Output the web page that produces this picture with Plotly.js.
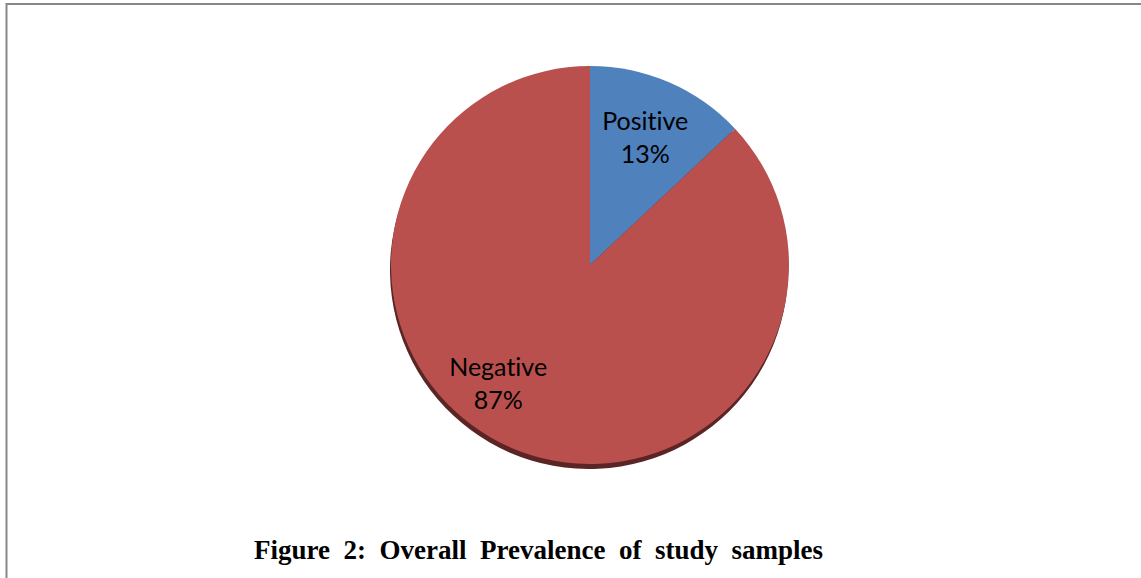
<!DOCTYPE html>
<html>
<head>
<meta charset="utf-8">
<script src="https://cdn.plot.ly/plotly-3.0.1.min.js"></script>
<style>html,body{margin:0;padding:0;background:#fff;}#chart{width:1141px;height:578px;}
#chart text, #chart tspan{font-variant-ligatures:none !important;font-feature-settings:"liga" 0, "clig" 0 !important;}</style>
</head>
<body>
<div id="chart"></div>
<script>
const categories = ["Positive", "Negative"];
const values = [13, 87];
const colors = ["#4F81BD", "#B9504E"];
const titleText = "Figure 2: Overall Prevalence of study samples";

const W = 1141, H = 578;
const cx = 590, cy = 265, r = 199;
const dom = (cxp, cyp) => ({
  x: [(cxp - r) / W, (cxp + r) / W],
  y: [1 - (cyp + r) / H, 1 - (cyp - r) / H]
});

const shadow = {
  type: "pie", values: values, labels: categories, sort: false,
  direction: "clockwise", rotation: 0, textinfo: "none", hoverinfo: "skip",
  marker: { colors: ["#5a2524", "#5a2524"], line: { width: 0 } },
  domain: dom(cx - 1, cy + 5), showlegend: false
};
const main = {
  type: "pie", values: values, labels: categories, sort: false,
  direction: "clockwise", rotation: 0, textinfo: "none",
  marker: { colors: colors, line: { width: 0 } },
  domain: dom(cx, cy), showlegend: false
};

// label positions: slice mid-angle, radial fraction + small offsets
const total = values.reduce((a, b) => a + b, 0);
const labelR = [0.63, 0.58];
const labelShift = [[6, -13], [-46, 12]];
let cum = 0;
const annotations = [];
values.forEach((v, i) => {
  const mid = (cum + v / 2) / total * 2 * Math.PI;
  cum += v;
  const lx = cx + Math.sin(mid) * r * labelR[i] + labelShift[i][0];
  const ly = cy - Math.cos(mid) * r * labelR[i] + labelShift[i][1];
  annotations.push({
    xref: "paper", yref: "paper", x: lx / W, y: 1 - ly / H,
    text: categories[i] + "<br>" + Math.round(v / total * 100) + "%",
    showarrow: false, font: { family: "Lato, 'Open Sans', sans-serif", size: 25, color: "#000" },
    xanchor: "center", yanchor: "middle", align: "center"
  });
});
annotations.push({
  xref: "paper", yref: "paper", x: 538 / W, y: 1 - 550 / H,
  text: "<b>" + titleText.split(" ").join("\u00A0 ") + "</b>", showarrow: false,
  font: { family: "'Liberation Serif', 'Times New Roman', serif", size: 27, color: "#000" },
  xanchor: "center", yanchor: "middle"
});

const layout = {
  width: W, height: H, margin: { l: 0, r: 0, t: 0, b: 0 },
  paper_bgcolor: "#fff", plot_bgcolor: "#fff",
  annotations: annotations,
  shapes: [
    { type: "line", xref: "paper", yref: "paper", x0: 6 / W, x1: 1, y0: 1 - 4 / H, y1: 1 - 4 / H, line: { color: "#888", width: 2 } },
    { type: "line", xref: "paper", yref: "paper", x0: 6.5 / W, x1: 6.5 / W, y0: 0, y1: 1 - 3 / H, line: { color: "#888", width: 2 } }
  ]
};
Plotly.newPlot("chart", [shadow, main], layout, { displayModeBar: false, staticPlot: true });
</script>
</body>
</html>
